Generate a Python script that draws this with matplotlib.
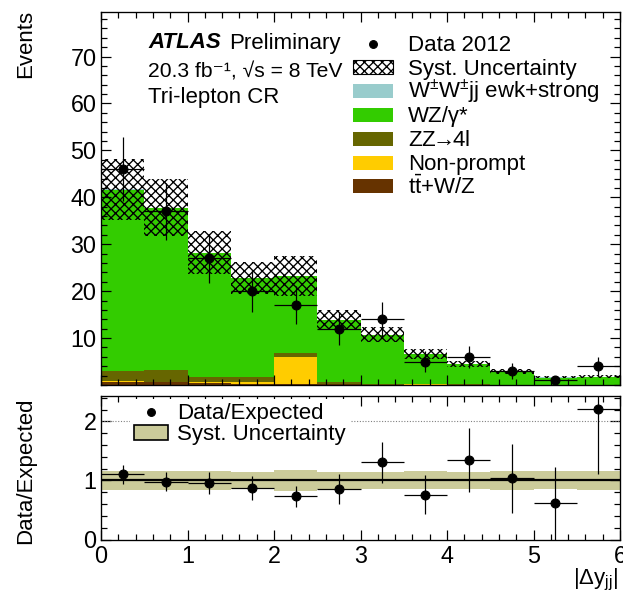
#!/usr/bin/env python
"""Tri-lepton control region: |dy_jj| distribution with data/expected ratio."""
import numpy as np
import matplotlib
matplotlib.use("Agg")
import matplotlib.pyplot as plt
from matplotlib.patches import Patch, Rectangle
from matplotlib.lines import Line2D

# |dy_jj| binning
bin_edges = [0.0, 0.5, 1.0, 1.5, 2.0, 2.5, 3.0, 3.5, 4.0, 4.5, 5.0, 5.5, 6.0]

# expected yields per bin, stacked bottom-up
ttv = [0.6, 0.7, 0.5, 0.3, 0.3, 0.2, 0.1, 0.1, 0.05, 0.05, 0.0, 0.0]
nonprompt = [0.3, 0.0, 0.1, 0.3, 5.7, 0.1, 0.0, 0.1, 0.0, 0.0, 0.0, 0.0]
zz = [2.1, 2.6, 1.0, 1.0, 0.8, 0.3, 0.2, 0.1, 0.1, 0.05, 0.05, 0.05]
wz = [38.65, 34.45, 26.55, 21.25, 16.45, 13.3, 10.35, 6.25, 4.25, 2.75, 1.54, 1.71]
wwjj = [0.05, 0.05, 0.05, 0.05, 0.05, 0.05, 0.05, 0.05, 0.05, 0.05, 0.05, 0.05]
syst = [6.5, 6.0, 4.6, 3.4, 4.3, 2.1, 1.6, 1.0, 0.65, 0.45, 0.25, 0.28]

# observed events
data = [46, 37, 27, 20, 17, 12, 14, 5, 6, 3, 1, 4]
data_err = [6.8, 6.1, 5.2, 4.5, 4.1, 3.5, 3.7, 2.2, 2.4, 1.7, 1.0, 2.0]

samples = [
    (ttv, "#663300", r"t$\mathregular{\bar{t}}$+W/Z"),
    (nonprompt, "#ffcc00", "Non-prompt"),
    (zz, "#666600", r"ZZ$\!\!\rightarrow\!\!$4l"),
    (wz, "#33cc00", "WZ/\u03b3*"),
    (wwjj, "#99cccc", r"W$^{\pm}$W$^{\pm}$jj ewk+strong"),
]

plt.rcParams["font.family"] = ["Liberation Sans", "DejaVu Sans"]
plt.rcParams["mathtext.fontset"] = "custom"
plt.rcParams["mathtext.rm"] = "Liberation Sans"
plt.rcParams["mathtext.it"] = "Liberation Sans:italic"
plt.rcParams["mathtext.bf"] = "Liberation Sans:bold"
plt.rcParams["hatch.linewidth"] = 1.2

DPI = 80
FS = 20
W, H = 623.0, 599.0
fig = plt.figure(figsize=(W / DPI, H / DPI), dpi=DPI)
ax = fig.add_axes([101 / W, 1 - 385 / H, 519 / W, 373 / H])
rax = fig.add_axes([101 / W, 1 - 539.5 / H, 519 / W, 143.5 / H])


def fx(px):
    return px / W


def fy(py):
    return 1 - py / H


edges = np.array(bin_edges)
centers = 0.5 * (edges[:-1] + edges[1:])
halfw = 0.5 * np.diff(edges)

# stacked backgrounds
bottom = np.zeros(len(data))
for vals, col, _ in samples:
    top = bottom + np.array(vals)
    ax.stairs(top, edges, baseline=bottom, fill=True, color=col, linewidth=0)
    bottom = top
total = bottom
syst = np.array(syst)

ax.stairs(total + syst, edges, baseline=total - syst, fill=True,
          facecolor="none", edgecolor="black", hatch="xxx", linewidth=0)

ax.errorbar(centers, data, yerr=data_err, xerr=halfw, fmt="o", color="black",
            ms=8, elinewidth=1.1, capsize=0)

ax.set_xlim(0, 6)
ax.set_ylim(0, 79.5)
ax.set_yticks([10, 20, 30, 40, 50, 60, 70])
ax.set_yticks(np.arange(0, 80, 2), minor=True)
ax.set_xticks(range(7))
ax.set_xticks(np.arange(0, 6.01, 0.2), minor=True)
ax.tick_params(labelbottom=False)

# ratio panel
data = np.array(data, dtype=float)
ratio = data / total
ratio_err = np.array(data_err) / total
rel = syst / total
band_col = "#cbcb9a"
rax.stairs(1 + rel, edges, baseline=1 - rel, fill=True, color=band_col, linewidth=0)
rax.axhline(2, color="gray", ls=(0, (1, 1.5)), lw=1)
rax.axhline(1, color="black", lw=2)
rax.errorbar(centers, ratio, yerr=ratio_err, xerr=halfw, fmt="o", color="black",
             ms=8, elinewidth=1.1, capsize=0)
rax.set_xlim(0, 6)
rax.set_ylim(0, 2.43)
rax.set_yticks([0, 1, 2])
rax.set_yticks(np.arange(0, 2.43, 0.2), minor=True)
rax.set_xticks(range(7))
rax.set_xticks(np.arange(0, 6.01, 0.2), minor=True)

for a in (ax, rax):
    for s in a.spines.values():
        s.set_linewidth(1.2)
    a.tick_params(which="both", direction="in", top=True, right=True,
                  width=1.1, labelsize=21)
    a.tick_params(which="major", length=9, pad=4)
    a.tick_params(which="minor", length=5)
rax.tick_params(axis="x", pad=5)

# main legend, one row per entry with fixed spacing
entries = [("marker", None, "Data 2012"), ("hatch", None, "Syst. Uncertainty")]
for vals, col, lab in reversed(samples):
    entries.append(("box", col, lab))
row0, dy = 43.5, 23.8
box_l, box_w, box_h = 353, 40, 14
for i, (kind, col, lab) in enumerate(entries):
    yc = row0 + i * dy
    if kind == "marker":
        fig.add_artist(Line2D([fx(box_l + box_w / 2)], [fy(yc)], marker="o",
                              color="black", ms=7, transform=fig.transFigure))
    elif kind == "hatch":
        fig.add_artist(Rectangle((fx(box_l), fy(yc + box_h / 2)), box_w / W, box_h / H,
                                 facecolor="white", edgecolor="black", hatch="xxx",
                                 lw=1.0, transform=fig.transFigure))
    else:
        fig.add_artist(Rectangle((fx(box_l), fy(yc + box_h / 2)), box_w / W, box_h / H,
                                 facecolor=col, edgecolor="none",
                                 transform=fig.transFigure))
    fig.text(fx(408), fy(yc + 7.5), lab, fontsize=FS, ha="left", va="baseline")

rhandles = [Line2D([], [], marker="o", color="black", ls="none", ms=7),
            Patch(facecolor=band_col, edgecolor="black", lw=1.5)]
rleg = rax.legend(rhandles, ["Data/Expected", "Syst. Uncertainty"], loc="upper left",
                  bbox_to_anchor=(fx(130), fy(399)), bbox_transform=fig.transFigure,
                  frameon=True, fontsize=FS, borderpad=0.2, borderaxespad=0,
                  handlelength=1.5, handleheight=0.65, handletextpad=0.4,
                  labelspacing=0.0, fancybox=False)
rleg.get_frame().set_facecolor("white")
rleg.get_frame().set_edgecolor("none")
rleg.get_frame().set_alpha(1)

# labels and annotations
fig.text(fx(148), fy(43), "ATLAS", fontsize=FS, fontweight="bold",
         fontstyle="italic", va="center", ha="left")
fig.text(fx(229), fy(43), "Preliminary", fontsize=FS, va="center", ha="left")
fig.text(fx(148), fy(77.5), "20.3 fb\u207b\u00b9, \u221as = 8 TeV",
         fontsize=19, va="baseline", ha="left")
fig.text(fx(148), fy(97), "Tri-lepton CR", fontsize=FS, va="center", ha="left")

fig.text(fx(26), fy(10), "Events", fontsize=FS, rotation=90, ha="center", va="top")
fig.text(fx(26), fy(471), "Data/Expected", fontsize=FS, rotation=90,
         ha="center", va="center")
fig.text(fx(618), fy(580), r"$\mathregular{|\Delta y_{jj}|}$", fontsize=FS,
         ha="right", va="center")

fig.savefig("out.png", dpi=DPI)
